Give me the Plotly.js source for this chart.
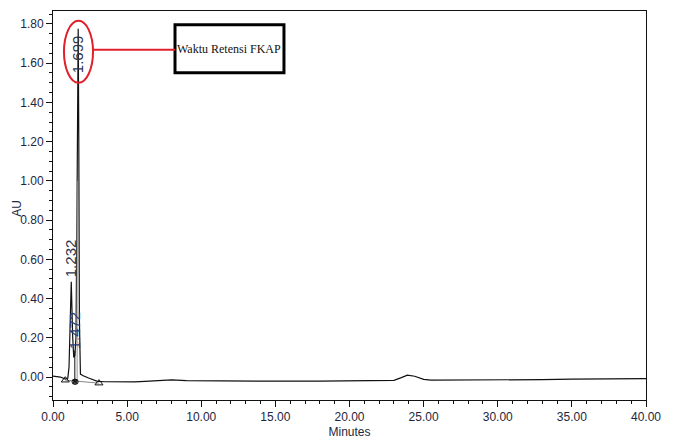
<!DOCTYPE html>
<html>
<head>
<meta charset="utf-8">
<script src="https://cdn.plot.ly/plotly-3.0.1.min.js"></script>
<style>html,body{margin:0;padding:0;background:#fff}#chart{width:673px;height:439px}</style>
</head>
<body>
<div id="chart"></div>
<script>
// Chromatogram trace (minutes, AU)
const timeMin = [0.0, 0.5, 0.83, 1.0, 1.08, 1.232, 1.33, 1.40, 1.472, 1.55, 1.62, 1.66, 1.699, 1.74, 1.78, 1.85, 2.0, 2.4, 3.0, 3.5, 4.5, 5.5, 6.2, 7.0, 8.0, 9.0, 10.0, 12.0, 15.0, 18.0, 20.0, 22.0, 23.0, 23.5, 23.9, 24.4, 25.0, 25.5, 27.0, 30.0, 33.0, 35.0, 37.0, 39.0, 40.0];
const absAU   = [0.005, 0.0, -0.01, -0.005, 0.05, 0.486, 0.2, 0.10, 0.11, 0.20, 0.9, 1.5, 1.775, 1.2, 0.3, 0.015, 0.008, -0.005, -0.022, -0.024, -0.025, -0.025, -0.022, -0.018, -0.014, -0.018, -0.019, -0.02, -0.021, -0.021, -0.02, -0.02, -0.017, -0.003, 0.010, 0.004, -0.012, -0.016, -0.016, -0.016, -0.013, -0.011, -0.011, -0.009, -0.008];

// Peak labels
const peakTimes  = [1.232, 1.472, 1.699];
const peakLabels = ["1.232", "1.472", "1.699"];

// Integration markers
const triTimes = [0.83, 3.1];
const triAU    = [-0.016, -0.031];
const crossTimes = [1.45, 1.53];
const crossAU    = [-0.024, -0.024];

const xTickVals = [0, 5, 10, 15, 20, 25, 30, 35, 40];
const yTickVals = [0, 0.2, 0.4, 0.6, 0.8, 1.0, 1.2, 1.4, 1.6, 1.8];

const tickColor = '#1e2740';

const traces = [
  {x: [0.83, 3.1], y: [-0.016, -0.031], mode: 'lines', line: {color: '#888', width: 1}, hoverinfo: 'skip', showlegend: false},
  {x: timeMin, y: absAU, mode: 'lines', line: {color: '#111', width: 1.2}, showlegend: false},
  {x: [peakTimes[1], peakTimes[1]], y: [-0.024, 0.135], mode: 'lines', line: {color: '#111', width: 1}, showlegend: false},
  {x: [peakTimes[2] - 0.07, peakTimes[2] - 0.07], y: [-0.024, 1.0], mode: 'lines', line: {color: '#999', width: 1}, showlegend: false},
  {x: triTimes, y: triAU, mode: 'markers', marker: {symbol: 'triangle-up-open', size: 7, color: '#111', line: {width: 1}}, showlegend: false},
  {x: crossTimes, y: crossAU, mode: 'markers', marker: {symbol: 'circle-x-open', size: 5, color: '#111', line: {width: 1}}, showlegend: false}
];

const annYs = [0.50, 0.13, 1.54];
const annColors = ['#2a3550', '#27407a', '#2a3550'];
const annotations = peakTimes.map((t, i) => ({
  x: t, y: annYs[i], xref: 'x', yref: 'y', text: peakLabels[i], showarrow: false,
  textangle: -90, xanchor: 'center', yanchor: 'bottom',
  font: {family: 'Liberation Sans, Arial', size: 15, color: annColors[i]}
}));
annotations.push({
  x: 11.9, y: 1.67, xref: 'x', yref: 'y', text: 'Waktu Retensi FKAP', showarrow: false,
  xanchor: 'center', yanchor: 'middle',
  font: {family: 'Liberation Serif, Times New Roman', size: 12, color: '#111'}
});
annotations.push({
  x: -0.061, y: 0.494, xref: 'paper', yref: 'paper', text: 'AU', showarrow: false,
  textangle: -90, xanchor: 'center', yanchor: 'middle',
  font: {family: 'Liberation Sans, Arial', size: 12, color: tickColor}
});

const layout = {
  width: 673, height: 439,
  margin: {l: 53, r: 27, t: 11, b: 39},
  paper_bgcolor: '#fff', plot_bgcolor: '#fff',
  showlegend: false,
  font: {family: 'Liberation Sans, Arial', size: 12, color: tickColor},
  xaxis: {
    range: [0, 40], tickvals: xTickVals, ticktext: xTickVals.map(v => v.toFixed(2)),
    ticks: 'outside', ticklen: 6, tickcolor: '#111', tickwidth: 1,
    minor: {dtick: 1, ticks: 'outside', ticklen: 3, tickcolor: '#111', tickwidth: 1},
    showline: true, linecolor: '#111', linewidth: 1, mirror: true,
    showgrid: false, zeroline: false,
    tickfont: {size: 12, color: tickColor},
    title: {text: 'Minutes', font: {size: 12, color: tickColor}, standoff: 6}
  },
  yaxis: {
    range: [-0.117, 1.866], tickvals: yTickVals, ticktext: yTickVals.map(v => v.toFixed(2)),
    ticks: 'outside', ticklen: 6, tickcolor: '#111', tickwidth: 1,
    minor: {dtick: 0.05, ticks: 'outside', ticklen: 3, tickcolor: '#111', tickwidth: 1},
    showline: true, linecolor: '#111', linewidth: 1, mirror: true,
    showgrid: false, zeroline: false,
    tickfont: {size: 12, color: tickColor}
  },
  shapes: [
    {type: 'circle', xref: 'x', yref: 'y', x0: 0.74, x1: 2.70, y0: 1.50, y1: 1.816, line: {color: '#e0202a', width: 2}},
    {type: 'line', xref: 'x', yref: 'y', x0: 2.70, x1: 8.23, y0: 1.668, y1: 1.668, line: {color: '#e0202a', width: 2}},
    {type: 'rect', xref: 'x', yref: 'y', x0: 8.23, x1: 15.58, y0: 1.551, y1: 1.796, line: {color: '#000', width: 3}, fillcolor: '#fff', layer: 'below'}
  ],
  annotations: annotations
};

Plotly.newPlot('chart', traces, layout, {displayModeBar: false, staticPlot: true});
</script>
</body>
</html>
